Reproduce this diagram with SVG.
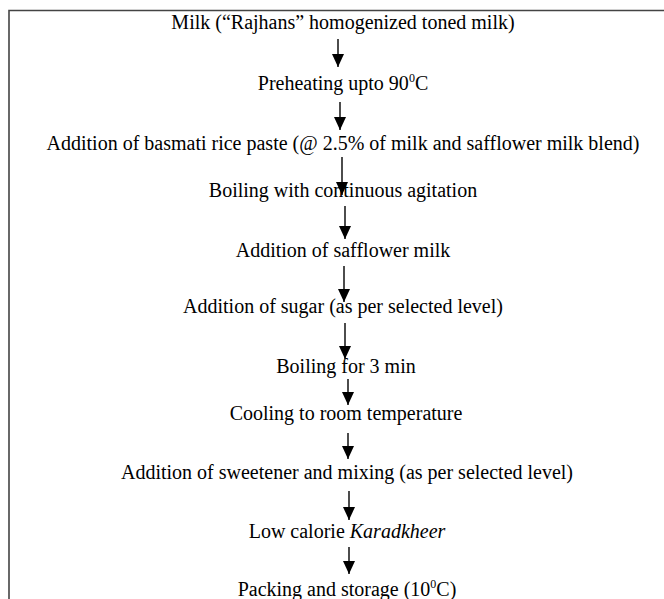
<svg xmlns="http://www.w3.org/2000/svg" width="664" height="599" viewBox="0 0 664 599">
<style>
text{font-family:"Liberation Serif","Times New Roman",serif;font-size:20px;fill:#000;text-anchor:middle}
.sup{font-size:12px}
.conn line{stroke:#000;stroke-width:1.4}
.border{stroke:#444;stroke-width:1.6;fill:none}
</style>
<defs>
<marker id="ah" markerWidth="13" markerHeight="12" refX="13" refY="6" orient="auto" markerUnits="userSpaceOnUse" viewBox="0 0 13 12">
<path d="M0,0 L13,6 L0,12 Z" fill="#000"/>
</marker>
</defs>
<rect width="664" height="599" fill="#fff"/>
<path class="border" d="M9,599 V10.5 H664"/>
<g id="n1"><text x="343" y="29">Milk (“Rajhans” homogenized toned milk)</text></g>
<g id="n2"><text x="343" y="90">Preheating upto 90<tspan class="sup" dy="-8">0</tspan><tspan dy="8">C</tspan></text></g>
<g id="n3"><text x="343" y="150">Addition of basmati rice paste (@ 2.5% of milk and safflower milk blend)</text></g>
<g id="n4"><text x="343" y="197">Boiling with continuous agitation</text></g>
<g id="n5"><text x="343" y="257">Addition of safflower milk</text></g>
<g id="n6"><text x="343" y="313">Addition of sugar (as per selected level)</text></g>
<g id="n7"><text x="346" y="373">Boiling for 3 min</text></g>
<g id="n8"><text x="346" y="420">Cooling to room temperature</text></g>
<g id="n9"><text x="347" y="479">Addition of sweetener and mixing (as per selected level)</text></g>
<g id="n10"><text x="347" y="538">Low calorie <tspan font-style="italic">Karadkheer</tspan></text></g>
<g id="n11"><text x="347" y="596">Packing and storage (10<tspan class="sup" dy="-8">0</tspan><tspan dy="8">C)</tspan></text></g>
<g id="connectors" class="conn">
<line x1="338" y1="39" x2="338" y2="67" marker-end="url(#ah)"/>
<line x1="340" y1="102" x2="340" y2="130" marker-end="url(#ah)"/>
<line x1="342" y1="157" x2="342" y2="195" marker-end="url(#ah)"/>
<line x1="345" y1="206" x2="345" y2="239" marker-end="url(#ah)"/>
<line x1="344" y1="266" x2="344" y2="302" marker-end="url(#ah)"/>
<line x1="345" y1="323" x2="345" y2="359" marker-end="url(#ah)"/>
<line x1="348" y1="379" x2="348" y2="405" marker-end="url(#ah)"/>
<line x1="348" y1="433" x2="348" y2="459" marker-end="url(#ah)"/>
<line x1="349" y1="491" x2="349" y2="520" marker-end="url(#ah)"/>
<line x1="349" y1="547" x2="349" y2="574" marker-end="url(#ah)"/>
</g>
</svg>
